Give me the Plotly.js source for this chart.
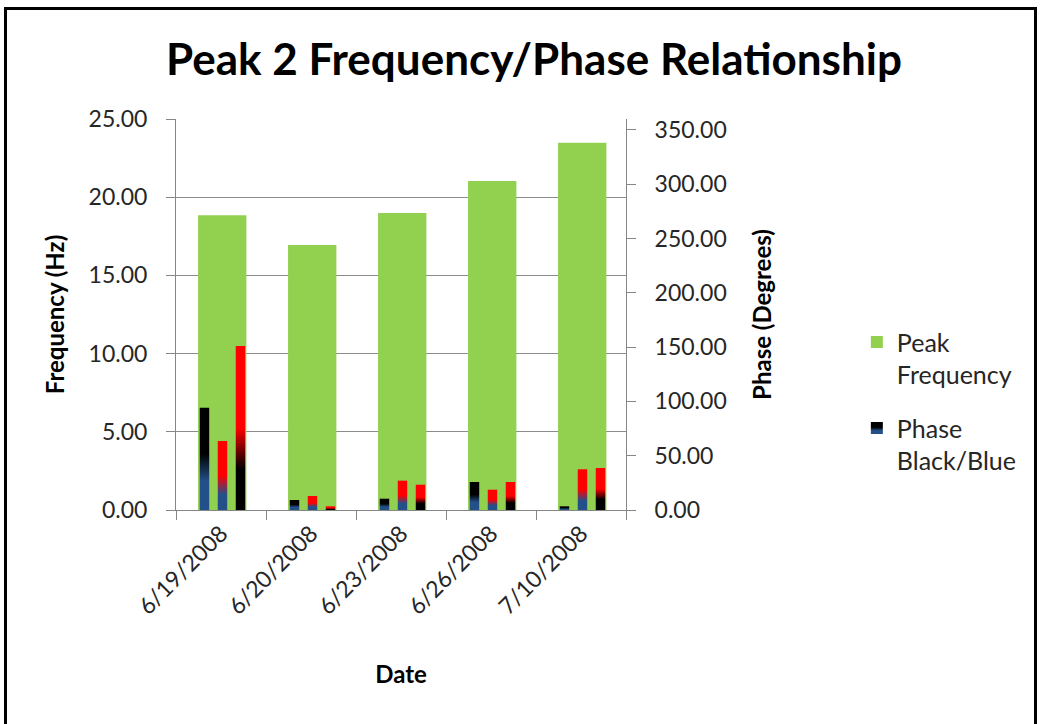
<!DOCTYPE html>
<html>
<head>
<meta charset="utf-8">
<script src="https://cdn.plot.ly/plotly-3.0.1.min.js"></script>
<style>
  html, body { margin: 0; padding: 0; background: #fff; overflow: hidden; }
  #wrap { position: relative; width: 1045px; height: 724px; }
  #chart { position: absolute; left: 0; top: 0; width: 1045px; height: 724px; }
  #frame { position: absolute; left: 4px; top: 7px; width: 1033px; height: 800px;
           border: 3px solid #000; pointer-events: none; box-sizing: border-box; }
</style>
</head>
<body>
<div id="wrap">
  <div id="chart"></div>
  <div id="frame"></div>
</div>
<script>
// ---- data ----
const dates = ['6/19/2008', '6/20/2008', '6/23/2008', '6/26/2008', '7/10/2008'];
const peakFrequency = [18.84, 16.94, 18.99, 21.03, 23.48];       // Hz (left axis)
const phaseBlackBlue = [94.2, 9.2, 10.4, 25.8, 3.4];            // degrees (right axis)
const phaseRedBlue   = [63.5, 12.9, 27.0, 18.7, 37.5];
const phaseRedBlack  = [151.0, 3.4, 23.3, 25.8, 38.7];

const FONT = 'Lato, "Open Sans", sans-serif';
const GREEN = '#92d050', BLUE = '#24508a', RED = '#ff0000', BLACK = '#000000';

const traces = [
  { type: 'bar', name: 'Peak<br>Frequency', x: dates, y: peakFrequency,
    xaxis: 'x', yaxis: 'y', width: 0.537, offset: -0.255, legendgroup: 'a',
    marker: { color: GREEN, line: { width: 0 } }, hoverinfo: 'x+y' },
  { type: 'bar', name: 'Phase<br>Black/Blue', x: dates, y: phaseBlackBlue,
    xaxis: 'x', yaxis: 'y2', width: 0.105, offset: -0.236, legendgroup: 'b',
    marker: { color: BLACK, line: { width: 0 } } },
  { type: 'bar', name: 'Phase Red/Blue', x: dates, y: phaseRedBlue, showlegend: false,
    xaxis: 'x', yaxis: 'y2', width: 0.105, offset: -0.036, legendgroup: 'b',
    marker: { color: RED, line: { width: 0 } } },
  { type: 'bar', name: 'Phase Red/Black', x: dates, y: phaseRedBlack, showlegend: false,
    xaxis: 'x', yaxis: 'y2', width: 0.105, offset: 0.164, legendgroup: 'b',
    marker: { color: RED, line: { width: 0 } } }
];

const gradients = {
  1: ['gBB', [[0, BLACK], [0.45, BLACK], [0.72, BLUE], [1, BLUE]]],
  2: ['gRB', [[0, RED], [0.50, RED], [0.78, BLUE], [1, BLUE]]],
  3: ['gRK', [[0, RED], [0.50, RED], [0.75, BLACK], [1, BLACK]]]
};

const layout = {
  width: 1045, height: 724,
  margin: { l: 176, r: 419, t: 119, b: 214, pad: 0 },
  paper_bgcolor: '#ffffff', plot_bgcolor: '#ffffff',
  font: { family: FONT, size: 23, color: '#262626' },
  barmode: 'overlay',
  showlegend: true,
  title: { text: '<b>Peak 2 Frequency/Phase Relationship</b>',
           font: { family: FONT, size: 44, color: '#000' },
           x: 0.511, xanchor: 'center', xref: 'container',
           y: 1 - 60 / 724, yanchor: 'middle', yref: 'container' },
  xaxis: {
    type: 'category', tickson: 'boundaries', ticks: 'outside', ticklen: 9,
    tickcolor: '#868686', showline: true, linecolor: '#868686', linewidth: 1,
    showgrid: false, tickangle: -45, tickfont: { family: FONT, size: 23, color: '#262626' },
    title: { text: '<b>Date</b>', font: { family: FONT, size: 24, color: '#000' }, standoff: 47 },
    automargin: false
  },
  yaxis: {
    range: [0, 25], dtick: 5, tickformat: '.2f', ticks: 'outside', ticklen: 9,
    tickcolor: '#868686', showline: true, linecolor: '#868686', linewidth: 1,
    showgrid: true, gridcolor: '#8c8c8c', gridwidth: 1, zeroline: false,
    ticklabelstandoff: 14,
    tickfont: { family: FONT, size: 23, color: '#262626' },
    title: { text: '<b>Frequency (Hz)</b>', font: { family: FONT, size: 24, color: '#000' }, standoff: 17 },
    automargin: false
  },
  yaxis2: {
    overlaying: 'y', side: 'right', range: [0, 360], dtick: 50, tickformat: '.2f',
    ticks: 'outside', ticklen: 9, tickcolor: '#868686', showline: true,
    linecolor: '#868686', linewidth: 1, showgrid: false, zeroline: false,
    ticklabelstandoff: 14,
    tickfont: { family: FONT, size: 23, color: '#262626' },
    title: { text: '<b>Phase (Degrees)</b>', font: { family: FONT, size: 24, color: '#000' }, standoff: 28 },
    automargin: false
  },
  legend: {
    x: 1.513, xanchor: 'left', y: 0.488, yanchor: 'top', valign: 'top',
    traceorder: 'grouped', tracegroupgap: 18,
    font: { family: FONT, size: 25, color: '#262626' },
    bgcolor: 'rgba(0,0,0,0)', borderwidth: 0, itemwidth: 30
  }
};

function applyGradients(gd) {
  const svg = gd.querySelector('svg.main-svg');
  const ns = 'http://www.w3.org/2000/svg';
  let defs = svg.querySelector('defs');
  if (!defs) { defs = document.createElementNS(ns, 'defs'); svg.insertBefore(defs, svg.firstChild); }
  Object.keys(gradients).forEach(k => {
    const [id, stops] = gradients[k];
    if (defs.querySelector('#' + id)) return;
    const lg = document.createElementNS(ns, 'linearGradient');
    lg.setAttribute('id', id);
    lg.setAttribute('x1', '0'); lg.setAttribute('y1', '0');
    lg.setAttribute('x2', '0'); lg.setAttribute('y2', '1');
    stops.forEach(([o, c]) => {
      const s = document.createElementNS(ns, 'stop');
      s.setAttribute('offset', String(o));
      s.setAttribute('stop-color', c);
      lg.appendChild(s);
    });
    defs.appendChild(lg);
  });
  gd.querySelectorAll('g.trace.bars').forEach(g => {
    const d = g.__data__;
    const idx = d && d[0] && d[0].trace ? d[0].trace.index : null;
    if (idx != null && gradients[idx]) {
      g.querySelectorAll('path').forEach(p => { p.style.fill = 'url(#' + gradients[idx][0] + ')'; });
    }
  });
  gd.querySelectorAll('.legend g.traces').forEach(g => {
    const d = g.__data__;
    const idx = d && d[0] && d[0][0] && d[0][0].trace ? d[0][0].trace.index
              : (d && d[0] && d[0].trace ? d[0].trace.index : null);
    if (idx != null && gradients[idx]) {
      g.querySelectorAll('.legendpoints path').forEach(p => { p.style.fill = 'url(#' + gradients[idx][0] + ')'; });
    }
  });
}

const gd = document.getElementById('chart');
Plotly.newPlot(gd, traces, layout, { displayModeBar: false, staticPlot: true })
  .then(() => applyGradients(gd));
</script>
</body>
</html>
